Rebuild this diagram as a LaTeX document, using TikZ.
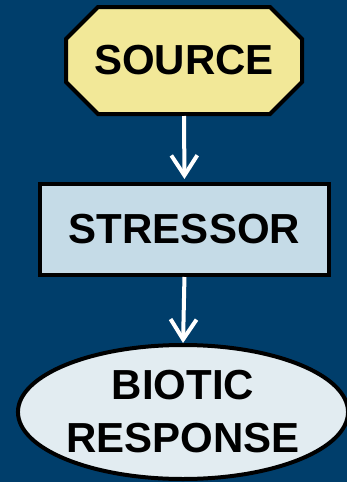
\documentclass[tikz,border=0pt]{standalone}
\usepackage{fontspec}
\setmainfont{Liberation Sans}
\usetikzlibrary{shapes.geometric,arrows.meta,backgrounds}
\definecolor{bgblue}{RGB}{0,62,107}
\definecolor{srcyellow}{RGB}{242,232,152}
\definecolor{strblue}{RGB}{197,219,231}
\definecolor{resblue}{RGB}{226,236,241}
\tikzset{
  boxtext/.style={font=\fontsize{42}{53}\selectfont\bfseries, text=black, inner sep=0pt, outer sep=0pt, align=center},
  srcshape/.style={boxtext, minimum width=236pt, minimum height=107pt},
  strshape/.style={boxtext, draw=black, line width=4pt, fill=strblue, rectangle, minimum width=289pt, minimum height=91pt},
  resshape/.style={boxtext, draw=black, line width=4pt, fill=resblue, ellipse, minimum width=318pt, minimum height=134pt},
  flowarrow/.style={draw=white, line width=4pt, -{Straight Barb[length=20pt,width=26pt]}}
}
\begin{document}
\begin{tikzpicture}[x=1pt,y=-1pt]
\useasboundingbox (0,0) rectangle (347,482);
\node[srcshape] (src) at (184,60.5) {SOURCE};
\node[strshape] (str) at (184.5,229.5) {STRESSOR};
\node[resshape] (res) at (183,412) {BIOTIC\\RESPONSE};
\begin{scope}[on background layer]
  \fill[bgblue] (0,0) rectangle (347,482);
  \draw[line width=4pt, fill=srcyellow, line join=miter]
    ([xshift=32pt]src.north west) -- ([xshift=-32pt]src.north east)
    -- ([yshift=-32pt]src.north east) -- ([yshift=32pt]src.south east)
    -- ([xshift=-32pt]src.south east) -- ([xshift=32pt]src.south west)
    -- ([yshift=32pt]src.south west) -- ([yshift=-32pt]src.north west) -- cycle;
\end{scope}
\draw[flowarrow, shorten <=2pt, shorten >=5pt] (src.south) -- (str.north);
\draw[flowarrow, shorten <=2pt, shorten >=2pt] (str.south) -- (res.north);
\end{tikzpicture}
\end{document}
